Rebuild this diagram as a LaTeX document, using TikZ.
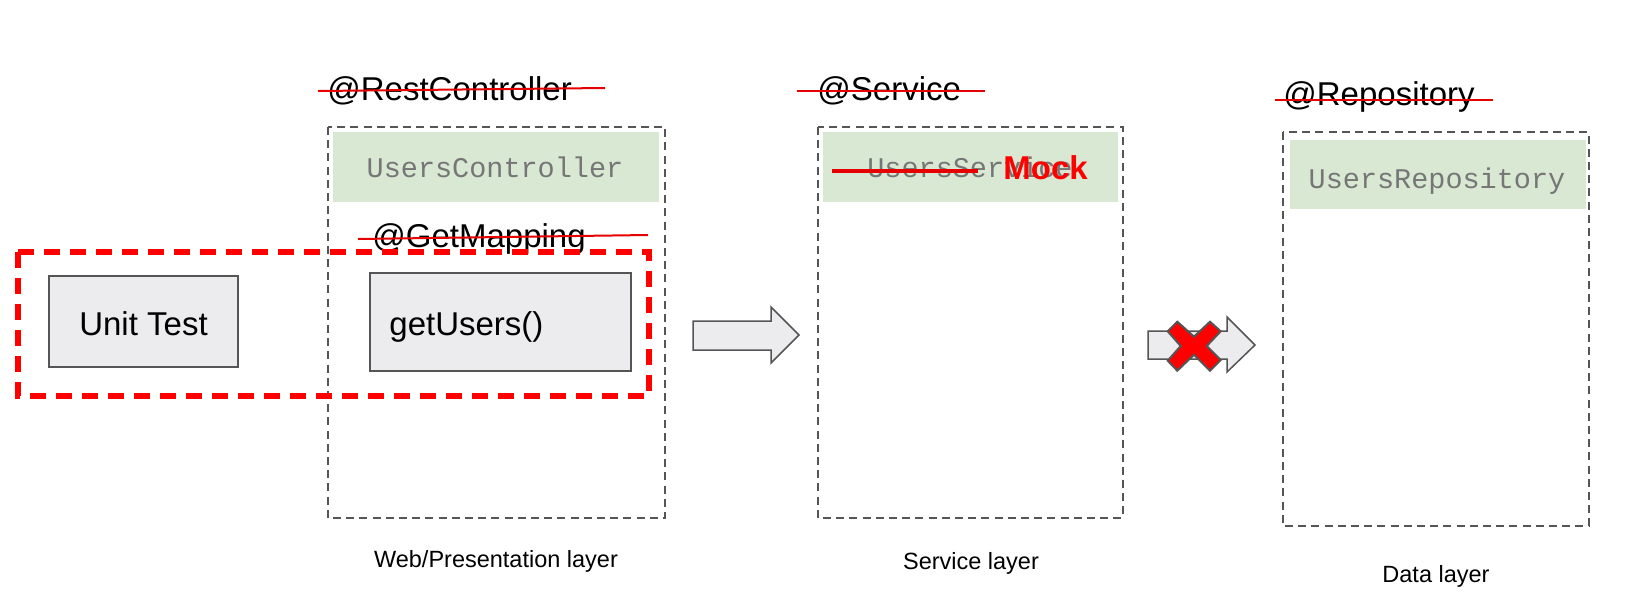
\documentclass[tikz,border=0pt]{standalone}
\usepackage{fontspec}
\setmainfont{Liberation Sans}
\newfontfamily\monofont{Liberation Mono}
\definecolor{boxgray}{RGB}{85,85,85}
\definecolor{fillgray}{RGB}{236,235,238}
\definecolor{lightgreen}{RGB}{217,232,211}
\definecolor{monogray}{RGB}{118,118,118}
\definecolor{strikered}{RGB}{230,0,0}
\definecolor{xred}{RGB}{255,0,0}
\tikzset{
  layerbox/.style={draw=boxgray, line width=0.75pt, dash pattern=on 4pt off 2.6pt},
  greenbox/.style={fill=lightgreen, draw=none},
  grayblock/.style={fill=fillgray, draw=boxgray, line width=0.75pt},
  annot/.style={inner sep=0pt, font=\fontsize{16.5}{19}\selectfont, anchor=base west},
  monotext/.style={inner sep=0pt, text=monogray, font=\monofont\fontsize{14.25}{17}\selectfont, anchor=base},
  blocktext/.style={inner sep=0pt, font=\fontsize{16.5}{19}\selectfont},
  caption/.style={inner sep=0pt, font=\fontsize{11.75}{14}\selectfont, anchor=base},
  strike/.style={draw=strikered, line width=1pt},
  reddash/.style={draw=xred, line width=2.75pt, dash pattern=on 8pt off 5pt},
  blockarrow/.style={fill=fillgray, draw=boxgray, line width=0.75pt, line join=miter},
}
\begin{document}
\begin{tikzpicture}[x=0.5pt, y=-0.5pt]
\useasboundingbox[fill=white] (0,0) rectangle (1634,612);

% layer boxes
\draw[layerbox] (328,127) rectangle (665,518);
\draw[layerbox] (818,127) rectangle (1123,518);
\draw[layerbox] (1283,132) rectangle (1589,526);

% green class boxes
\fill[greenbox] (333,132) rectangle (659,202);
\fill[greenbox] (823,132) rectangle (1118,202);
\fill[greenbox] (1290,140) rectangle (1586,209);
\node[monotext] (ctrl) at (495,177) {UsersController};
\node[monotext] (svc) at (970,177) {UsersService};
\node[monotext] (repo) at (1437,188) {UsersRepository};

% annotations
\node[annot] (arc) at (327,100) {@RestController};
\draw[strike] (318,91) -- (605,88);
\node[annot] (asv) at (817,100) {@Service};
\draw[strike] (797,91) -- (985,91);
\node[annot] (arp) at (1283,105) {@Repository};
\draw[strike] (1275,100) -- (1493,100);
\node[annot] (agm) at (372,247) {@GetMapping};
\draw[strike] (358,239) -- (648,235);

% mock
\draw[strikered, line width=1.6pt] (832,171) -- (978,171);
\node[inner sep=0pt, anchor=base west, text=xred, font=\bfseries\fontsize{16.5}{19}\selectfont] (mock) at (1003,179) {Mock};

% blocks
\draw[grayblock] (49,276) rectangle (238,367);
\node[blocktext, anchor=base] (ut) at (143.5,335) {Unit Test};
\draw[grayblock] (370,273) rectangle (631,371);
\node[blocktext, anchor=base west] (gu) at (389,335) {getUsers()};

% red dashed scope
\draw[reddash] (18,252) rectangle (649,396);

% block arrows
\draw[blockarrow] (693,321) -- (771,321) -- (771,307) -- (799,335) -- (771,363) -- (771,350) -- (693,350) -- cycle;
\draw[blockarrow] (1148,331) -- (1227,331) -- (1227,317) -- (1255,345) -- (1227,372) -- (1227,359) -- (1148,359) -- cycle;

% red cross
\begin{scope}[shift={(1194,346)}]
\draw[fill=xred, draw=boxgray, line width=1pt, line join=miter]
  (-26.3,-14.7) -- (-16.7,-24.3) -- (0,-9.3) -- (16,-24.3) -- (26.7,-14.7) -- (12.7,0)
  -- (26.7,14) -- (16,24.7) -- (0,8.7) -- (-16.7,24.7) -- (-26.3,14.7) -- (-13.3,0) -- cycle;
\end{scope}

% captions
\node[caption] (cap1) at (496,567) {Web/Presentation layer};
\node[caption] (cap2) at (971,569) {Service layer};
\node[caption] (cap3) at (1436,582) {Data layer};
\end{tikzpicture}
\end{document}
